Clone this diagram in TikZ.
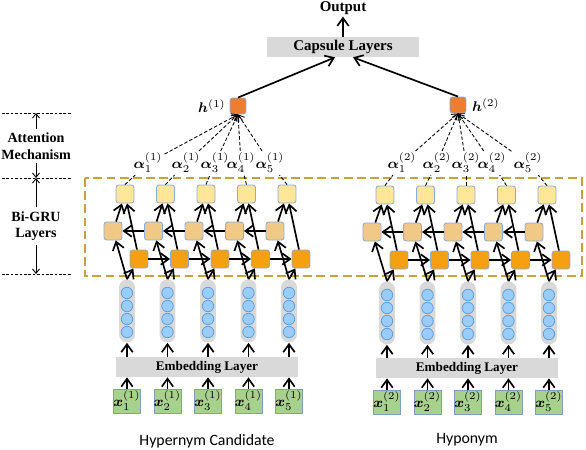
\documentclass[tikz,border=0pt]{standalone}
\usepackage{fontspec}
\usepackage{amsmath}
\setmainfont{Liberation Serif}
\newfontfamily\capfont{Carlito}
\usetikzlibrary{arrows.meta}

\definecolor{topfill}{HTML}{FFE699}
\definecolor{bwdfill}{HTML}{F0C987}
\definecolor{fwdfill}{HTML}{F4A011}
\definecolor{hfill}{HTML}{ED7D31}
\definecolor{cellline}{HTML}{8EAADB}
\definecolor{xfill}{HTML}{A9D18E}
\definecolor{xline}{HTML}{7F9FBF}
\definecolor{dotfill}{HTML}{99CCFF}
\definecolor{dotline}{HTML}{5B9BD5}
\definecolor{layergray}{HTML}{D9D9D9}
\definecolor{gruframe}{HTML}{C9A13B}

\tikzset{
  cell/.style={draw=cellline,line width=0.5pt,rounded corners=1.5pt,minimum size=0.36cm,inner sep=0},
  xcell/.style={draw=xline,line width=0.4pt,fill=xfill,minimum width=0.52cm,minimum height=0.48cm,inner sep=0,font=\fontsize{8.5}{10}\selectfont},
  pill/.style={fill=layergray,rounded corners=0.16cm,minimum width=0.32cm,minimum height=1.26cm,inner sep=0},
  unit/.style={circle,draw=dotline,line width=0.4pt,fill=dotfill,minimum size=0.23cm,inner sep=0},
  layer/.style={fill=layergray,inner sep=0,font=\bfseries\fontsize{7.5}{9}\selectfont},
  lbl/.style={inner sep=1pt,font=\fontsize{8.5}{10}\selectfont},
  arr/.style={line width=0.95pt,-{Straight Barb[length=4.5pt,width=6.5pt]}},
  att/.style={line width=0.5pt,dash pattern=on 2pt off 1.2pt},
  guide/.style={line width=0.4pt,dash pattern=on 1.5pt off 1pt},
}

\begin{document}
\begin{tikzpicture}[x=0.02cm,y=-0.02cm]
\useasboundingbox (0,0) rectangle (586,450);

% top of the network
\node (cap) at (343,47) [layer,minimum width=3.06cm,minimum height=0.4cm,font=\bfseries\fontsize{8.5}{10}\selectfont] {Capsule Layers};
\node (out) at (343,8) [inner sep=1pt,font=\bfseries\fontsize{8.5}{10}\selectfont] {Output};
\draw[arr] (cap) -- (out);

\node (h-1) at (238,106) [cell,fill=hfill,minimum size=0.32cm] {};
\node (h-2) at (458,105) [cell,fill=hfill,minimum size=0.32cm] {};
\node at (h-1.west) [lbl,anchor=east,xshift=-1pt] {$\boldsymbol{h}^{(1)}$};
\node at (h-2.east) [lbl,anchor=west,xshift=2pt] {$\boldsymbol{h}^{(2)}$};
\draw[arr] (h-1.north) -- ([xshift=-0.16cm]cap.south);
\draw[arr] (h-2.north) -- ([xshift=0.2cm]cap.south);

% Bi-GRU frame
\draw[gruframe,line width=0.7pt,dash pattern=on 5pt off 2.5pt] (85,178) rectangle (582,276);

% left guides
\draw[guide] (2,113) -- (72,113);
\draw[guide] (2,178) -- (72,178);
\draw[guide] (2,274) -- (72,274);
\coordinate (lvl1) at (36,113);
\coordinate (lvl2) at (36,178);
\coordinate (lvl3) at (36,274);
\node (attn) at (36,146) [align=center,inner sep=2pt,font=\bfseries\fontsize{8}{9.5}\selectfont] {Attention\\Mechanism};
\node (bigru) at (36,226) [align=center,inner sep=2pt,font=\bfseries\fontsize{8}{9.5}\selectfont] {Bi-GRU\\Layers};
\draw[line width=0.5pt,-{Straight Barb[length=2.5pt,width=4pt]}] (attn.north) -- (lvl1);
\draw[line width=0.5pt,-{Straight Barb[length=2.5pt,width=4pt]}] (attn.south) -- (lvl2);
\draw[line width=0.5pt,-{Straight Barb[length=2.5pt,width=4pt]}] (bigru.north) -- (lvl2);
\draw[line width=0.5pt,-{Straight Barb[length=2.5pt,width=4pt]}] (bigru.south) -- (lvl3);

% embedding layers
\node (emb-1) at (207,367) [layer,minimum width=3.66cm,minimum height=0.4cm] {Embedding Layer};
\node (emb-2) at (467,368) [layer,minimum width=3.64cm,minimum height=0.4cm] {Embedding Layer};

% hypernym candidate side
\foreach \i in {1,...,5} {
  \pgfmathsetmacro\cx{127+40.5*(\i-1)}
  \node (top-1-\i) at (\cx-2,194) [cell,fill=topfill] {};
  \node (bwd-1-\i) at (\cx-14,231) [cell,fill=bwdfill] {};
  \node (fwd-1-\i) at (\cx+12,259) [cell,fill=fwdfill] {};
  \node (vec-1-\i) at (\cx,311) [pill] {};
  \foreach \k in {1,...,4}
    \node at (\cx,280+13*\k) [unit] {};
  \node (x-1-\i) at (\cx,401) [xcell] {$\boldsymbol{x}_{\i}^{(1)}$};
  \draw[arr] (x-1-\i.north) -- (x-1-\i |- emb-1.south);
  \draw[arr] (vec-1-\i |- emb-1.north) -- (vec-1-\i.south);
  \draw[arr] (vec-1-\i.north) -- (bwd-1-\i);
  \draw[arr] (vec-1-\i.north) -- (fwd-1-\i);
  \draw[arr] (bwd-1-\i) -- (top-1-\i);
  \draw[arr] (fwd-1-\i) -- (top-1-\i);
}
\foreach \i in {1,...,4} {
  \pgfmathtruncatemacro\j{\i+1}
  \draw[arr] (fwd-1-\i) -- (fwd-1-\j);
  \draw[arr] (bwd-1-\j) -- (bwd-1-\i);
}
\node (al-1-1) at (148,163) [lbl] {$\boldsymbol{\alpha}_1^{(1)}$};
\node (al-1-2) at (186,163) [lbl] {$\boldsymbol{\alpha}_2^{(1)}$};
\node (al-1-3) at (215,163) [lbl] {$\boldsymbol{\alpha}_3^{(1)}$};
\node (al-1-4) at (241,163) [lbl] {$\boldsymbol{\alpha}_4^{(1)}$};
\node (al-1-5) at (270,163) [lbl] {$\boldsymbol{\alpha}_5^{(1)}$};
\foreach \i in {1,...,5} {
  \draw[att] (top-1-\i.north) -- (al-1-\i);
  \draw[att,-{Straight Barb[length=3pt,width=4.5pt]}] (al-1-\i) -- (h-1.south);
}

% hyponym side
\foreach \i in {1,...,5} {
  \pgfmathsetmacro\cx{387+40.5*(\i-1)}
  \node (top-2-\i) at (\cx-2,195) [cell,fill=topfill] {};
  \node (bwd-2-\i) at (\cx-15,232) [cell,fill=bwdfill] {};
  \node (fwd-2-\i) at (\cx+12,260) [cell,fill=fwdfill] {};
  \node (vec-2-\i) at (\cx,313) [pill] {};
  \foreach \k in {1,...,4}
    \node at (\cx,282+13*\k) [unit] {};
  \node (x-2-\i) at (\cx,402) [xcell] {$\boldsymbol{x}_{\i}^{(2)}$};
  \draw[arr] (x-2-\i.north) -- (x-2-\i |- emb-2.south);
  \draw[arr] (vec-2-\i |- emb-2.north) -- (vec-2-\i.south);
  \draw[arr] (vec-2-\i.north) -- (bwd-2-\i);
  \draw[arr] (vec-2-\i.north) -- (fwd-2-\i);
  \draw[arr] (bwd-2-\i) -- (top-2-\i);
  \draw[arr] (fwd-2-\i) -- (top-2-\i);
}
\foreach \i in {1,...,4} {
  \pgfmathtruncatemacro\j{\i+1}
  \draw[arr] (fwd-2-\i) -- (fwd-2-\j);
  \draw[arr] (bwd-2-\j) -- (bwd-2-\i);
}
\node (al-2-1) at (402,163) [lbl] {$\boldsymbol{\alpha}_1^{(2)}$};
\node (al-2-2) at (437,163) [lbl] {$\boldsymbol{\alpha}_2^{(2)}$};
\node (al-2-3) at (466,163) [lbl] {$\boldsymbol{\alpha}_3^{(2)}$};
\node (al-2-4) at (492,163) [lbl] {$\boldsymbol{\alpha}_4^{(2)}$};
\node (al-2-5) at (528,163) [lbl] {$\boldsymbol{\alpha}_5^{(2)}$};
\foreach \i in {1,...,5} {
  \draw[att] (top-2-\i.north) -- (al-2-\i);
  \draw[att,-{Straight Barb[length=3pt,width=4.5pt]}] (al-2-\i) -- (h-2.south);
}

% captions
\node (cap-1) at (207,441) [font=\capfont\fontsize{9}{11}\selectfont] {Hypernym Candidate};
\node (cap-2) at (467,440) [font=\capfont\fontsize{9}{11}\selectfont] {Hyponym};
\end{tikzpicture}
\end{document}
